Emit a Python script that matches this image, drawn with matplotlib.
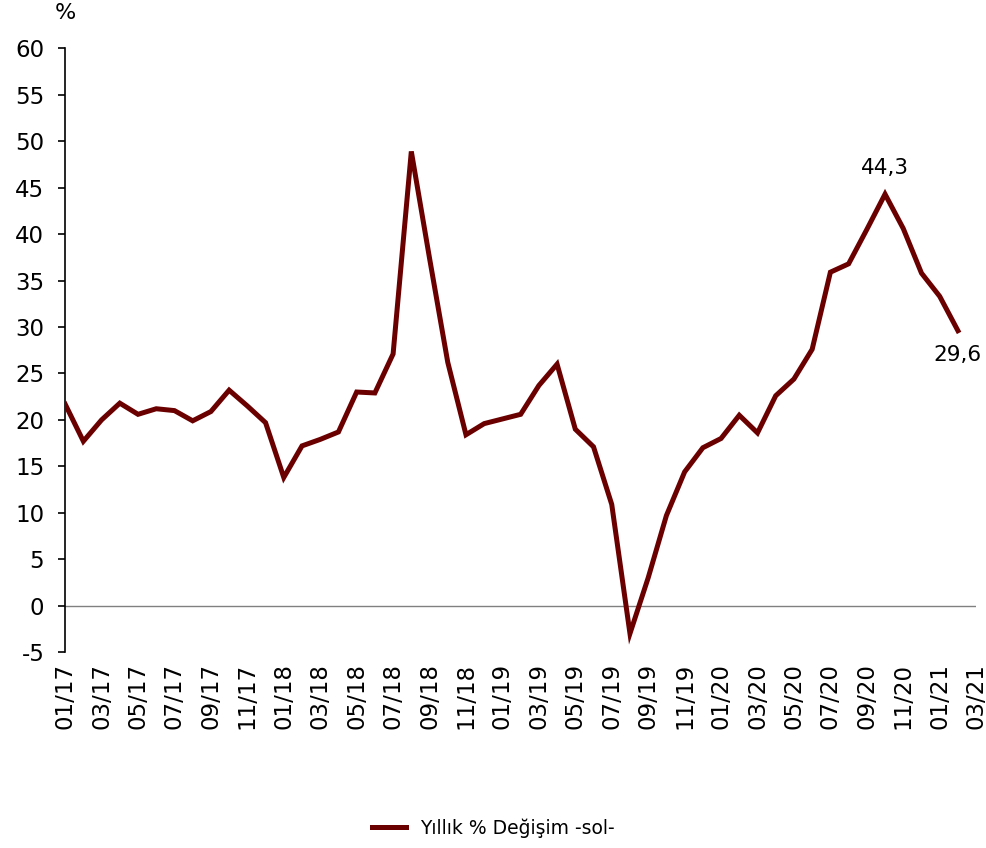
import matplotlib
matplotlib.use("Agg")
import matplotlib.pyplot as plt
import numpy as np

# Monthly data 01/17 .. 02/21
values = [21.7, 17.7, 20.0, 21.8, 20.6, 21.2, 21.0, 19.9, 20.9, 23.2,
          21.5, 19.7, 13.8, 17.2, 17.9, 18.7, 23.0, 22.9, 27.1, 48.9,
          37.4, 26.2, 18.4, 19.6, 20.1, 20.6, 23.7, 26.0, 19.0, 17.1,
          10.9, -3.0, 3.0, 9.7, 14.4, 17.0, 18.0, 20.5, 18.6, 22.6,
          24.4, 27.6, 35.9, 36.8, 40.5, 44.3, 40.6, 35.8, 33.3, 29.6]
tick_labels = ["01/17", "03/17", "05/17", "07/17", "09/17", "11/17",
               "01/18", "03/18", "05/18", "07/18", "09/18", "11/18",
               "01/19", "03/19", "05/19", "07/19", "09/19", "11/19",
               "01/20", "03/20", "05/20", "07/20", "09/20", "11/20",
               "01/21", "03/21"]
series_name = "Yıllık % Değişim -sol-"
annot_idx = [45, 49]
annot_text = ["44,3", "29,6"]
yticks = list(range(-5, 61, 5))

color = "#6B0000"
plt.rcParams['font.family'] = ['DejaVu Sans']

fig = plt.figure(figsize=(9.87, 8.48), dpi=100)
ax = fig.add_axes([0.066, 0.231, 0.923, 0.712])

x = np.arange(len(values))
ax.plot(x, values, color=color, lw=3.6, solid_joinstyle='miter', label=series_name, zorder=3)
ax.axhline(0, color="#808080", lw=1.0, zorder=1)

ax.set_xlim(0, 50)
ax.set_ylim(-5, 60)
ax.set_yticks(yticks)
ax.set_yticklabels([str(v) for v in yticks], fontsize=16.5)
ax.set_xticks(np.arange(0, 51, 2))
ax.set_xticklabels(tick_labels, rotation=90, fontsize=16.5)
ax.tick_params(axis='x', length=0, pad=8)
ax.tick_params(axis='y', length=5, width=1.2, direction='out', pad=10)

for s in ['top', 'right', 'bottom']:
    ax.spines[s].set_visible(False)
ax.spines['left'].set_linewidth(1.2)

ax.annotate(annot_text[0], (annot_idx[0], values[annot_idx[0]]), xytext=(0, 12),
            textcoords='offset points', ha='center', va='bottom', fontsize=15.5)
ax.annotate(annot_text[1], (annot_idx[1], values[annot_idx[1]]), xytext=(0, -10),
            textcoords='offset points', ha='center', va='top', fontsize=15.5)

ax.text(0.0, 1.042, "%", transform=ax.transAxes, ha='center', va='bottom', fontsize=16)

fig.legend(loc='lower center', bbox_to_anchor=(0.5, -0.008), frameon=False, fontsize=13.5,
           handlelength=1.8)

fig.savefig("out.png", dpi=100)
